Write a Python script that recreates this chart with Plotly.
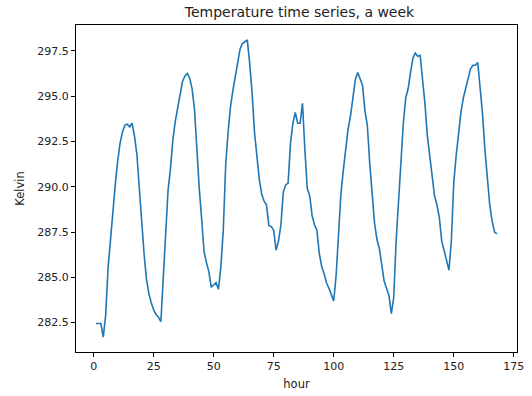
import plotly.graph_objects as go

hours = list(range(1, 169))
kelvin = [
    282.45, 282.45, 282.45, 281.7, 282.9, 285.5, 287.2, 288.8, 290.1, 291.4,
    292.4, 293.0, 293.4, 293.45, 293.3, 293.5, 292.8, 291.8, 290.0, 287.8,
    286.3, 284.9, 284.1, 283.6, 283.2, 282.95, 282.8, 282.55, 285.2, 287.8,
    289.8, 291.0, 292.6, 293.6, 294.3, 295.0, 295.8, 296.1, 296.25, 296.0,
    295.4, 294.3, 292.0, 289.9, 288.2, 286.4, 285.8, 285.3, 284.45, 284.6,
    284.7, 284.35, 285.6, 287.6, 291.2, 293.0, 294.4, 295.3, 296.0, 296.7,
    297.6, 297.9, 298.0, 298.1, 296.8, 295.2, 293.0, 291.6, 290.4, 289.6,
    289.2, 289.0, 287.85, 287.8, 287.6, 286.5, 287.0, 287.9, 289.7, 290.1,
    290.2, 292.4, 293.5, 294.1, 293.5, 293.5, 294.6, 292.0, 289.9, 289.5,
    288.4, 287.9, 287.6, 286.3, 285.6, 285.2, 284.7, 284.4, 284.1, 283.7,
    285.1, 287.5, 289.6, 290.9, 292.0, 293.2, 293.9, 294.9, 295.9, 296.3,
    296.0, 295.6, 294.2, 293.4, 291.3, 289.4, 288.0, 287.1, 286.6, 285.7,
    284.8, 284.4, 284.0, 283.0, 283.9, 287.0, 289.4, 291.8, 293.5, 294.9,
    295.4, 296.3, 297.1, 297.37, 297.2, 297.25, 296.0, 294.6, 292.8, 291.6,
    290.6, 289.5, 289.0, 288.3, 287.0, 286.5, 285.9, 285.4, 287.0, 290.2,
    291.7, 293.0, 294.1, 294.9, 295.4, 296.0, 296.5, 296.7, 296.7, 296.85,
    295.6, 294.0, 292.0, 290.6, 289.0, 288.1, 287.5, 287.4,
]
assert len(kelvin) == len(hours)

x_ticks = [0, 25, 50, 75, 100, 125, 150, 175]
y_ticks = [282.5, 285.0, 287.5, 290.0, 292.5, 295.0, 297.5]

title_text = "Temperature time series, a week"
x_label = "hour"
y_label = "Kelvin"

fig = go.Figure()
fig.add_trace(go.Scatter(x=hours, y=kelvin, mode="lines",
                         line=dict(color="#1f77b4", width=1.6),
                         showlegend=False))

pad_x = (max(hours) - min(hours)) * 0.05
pad_y = (max(kelvin) - min(kelvin)) * 0.05

axis_common = dict(showline=True, linecolor="black", linewidth=1, mirror=True,
                   ticks="outside", ticklen=4, tickcolor="black", tickwidth=1,
                   showgrid=False, zeroline=False,
                   tickfont=dict(family="DejaVu Sans", size=11, color="#222"))

fig.update_layout(
    width=532, height=396,
    margin=dict(l=76, r=8, t=25, b=40),
    paper_bgcolor="white", plot_bgcolor="white",
    font=dict(family="DejaVu Sans", color="#222"),
    title=dict(text=title_text, x=0.563, xanchor="center", y=0.97, yanchor="middle",
               font=dict(family="DejaVu Sans", size=14, color="#222")),
    xaxis=dict(range=[min(hours) - pad_x, max(hours) + pad_x],
               tickvals=x_ticks, ticktext=[str(v) for v in x_ticks],
               title=dict(text=x_label, standoff=7,
                          font=dict(family="DejaVu Sans", size=11.5, color="#222")),
               **axis_common),
    yaxis=dict(range=[min(kelvin) - pad_y, max(kelvin) + pad_y],
               tickvals=y_ticks, ticktext=[f"{v:.1f}" for v in y_ticks],
               title=dict(text=y_label, standoff=10,
                          font=dict(family="DejaVu Sans", size=11.5, color="#222")),
               **axis_common),
)

fig.write_html("out.html")
